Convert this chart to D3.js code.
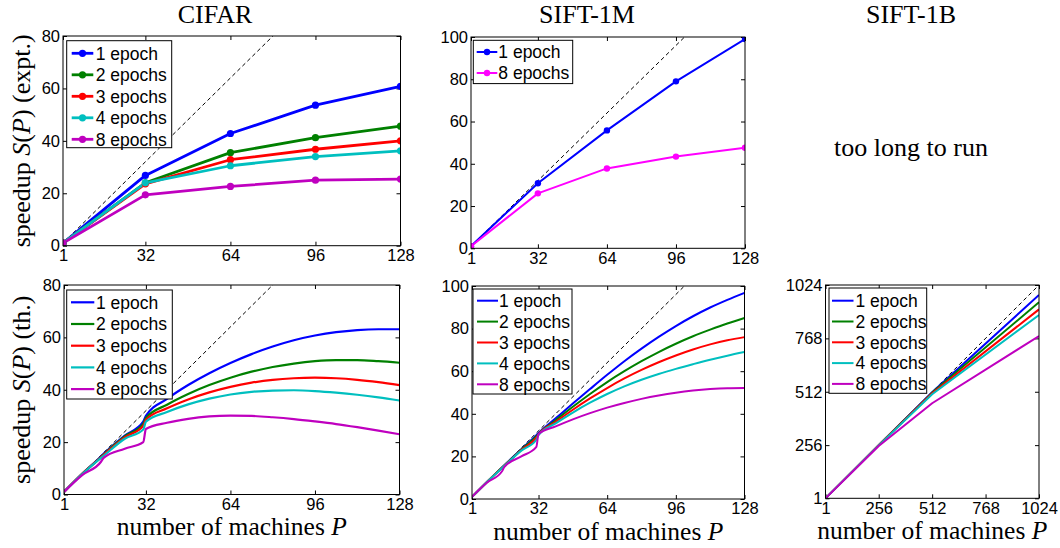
<!DOCTYPE html>
<html>
<head>
<meta charset="utf-8">
<script src="https://cdn.jsdelivr.net/npm/d3@7"></script>
<style>
    body { margin: 0; background: #fff; }
    svg { display: block; }
</style>
</head>
<body>
<div id="chart"></div>
<script>
// ---- data ----
const epochLabels = ["1 epoch", "2 epochs", "3 epochs", "4 epochs", "8 epochs"];
const epochColors = ["#0000ff", "#008000", "#ff0000", "#00bfbf", "#bf00bf"];

// CIFAR, measured speedup
const cifarExptP = [1, 32, 64, 96, 128];
const cifarExpt = [
    [1, 26.8, 42.8, 53.6, 60.8],
    [1, 24.0, 35.5, 41.2, 45.6],
    [1, 23.6, 32.8, 36.8, 40.0],
    [1, 24.0, 30.5, 34.0, 36.2],
    [1, 19.4, 22.6, 25.0, 25.4]
];

// SIFT-1M, measured speedup
const sift1mExptP = [1, 32, 64, 96, 128];
const sift1mExptLabels = ["1 epoch", "8 epochs"];
const sift1mExptColors = ["#0000ff", "#ff00ff"];
const sift1mExpt = [
    [1, 30.8, 55.8, 79.0, 99.0],
    [1, 26.0, 37.8, 43.4, 47.6]
];

// theoretical curves, sampled at these P
const thP = [1, 8, 15, 16, 24, 31, 32, 40, 48, 56, 64, 72, 80, 88, 96, 104, 112, 120, 128];
const cifarTh = [
    [1, 8, 14.5, 15.5, 22.5, 27.8, 30.0, 36.5, 41.8, 46.3, 50.2, 53.6, 56.5, 58.9, 60.7, 62.0, 62.8, 63.1, 63.1],
    [1, 8, 14.3, 15.3, 22.2, 27.0, 29.2, 34.3, 38.4, 41.8, 44.6, 46.9, 48.7, 50.0, 50.9, 51.3, 51.3, 50.9, 50.3],
    [1, 8, 14.2, 15.1, 21.8, 26.2, 28.5, 32.9, 36.3, 39.0, 41.1, 42.7, 43.8, 44.4, 44.6, 44.4, 43.8, 42.9, 41.8],
    [1, 7.9, 14.0, 14.8, 21.3, 24.8, 27.8, 31.5, 34.4, 36.6, 38.2, 39.2, 39.7, 39.8, 39.5, 38.9, 38.1, 37.1, 35.9],
    [1, 7.5, 12.5, 14.0, 17.5, 20.0, 25.0, 27.4, 28.9, 29.8, 30.1, 30.0, 29.5, 28.8, 27.9, 26.9, 25.7, 24.4, 23.0]
];
const sift1mTh = [
    [1, 8, 14.8, 15.8, 23.4, 30.0, 31.0, 37.9, 44.8, 51.6, 58.3, 64.7, 70.6, 76.1, 81.2, 85.8, 89.9, 93.5, 96.8],
    [1, 8, 14.8, 15.7, 23.2, 29.5, 30.6, 37.0, 43.3, 49.3, 54.9, 60.0, 64.7, 69.0, 72.9, 76.4, 79.5, 82.4, 85.0],
    [1, 8, 14.7, 15.6, 23.0, 28.8, 30.3, 36.2, 41.9, 47.2, 52.1, 56.6, 60.6, 64.2, 67.4, 70.2, 72.6, 74.5, 76.0],
    [1, 8, 14.6, 15.5, 22.7, 27.8, 30.0, 35.5, 40.6, 45.2, 49.3, 52.9, 56.0, 58.7, 61.1, 63.3, 65.4, 67.3, 69.0],
    [1, 7.7, 13.0, 15.0, 20.0, 24.5, 30.5, 34.1, 37.4, 40.3, 42.9, 45.1, 47.0, 48.6, 49.9, 50.9, 51.6, 52.0, 52.1]
];
const sift1bP = [1, 256, 512, 1024];
const sift1bTh = [
    [1, 256, 510, 976],
    [1, 256, 508, 941],
    [1, 256, 505, 907],
    [1, 255, 500, 880],
    [1, 252, 457, 779]
];

const ticks128 = [1, 32, 64, 96, 128];
const ticks80 = [0, 20, 40, 60, 80];
const ticks100 = [0, 20, 40, 60, 80, 100];
const ticks1024 = [1, 256, 512, 768, 1024];

const titles = [["CIFAR", 215], ["SIFT-1M", 587], ["SIFT-1B", 911]];

// ---- layout ----
const W = 1060, H = 548;
const sansFont = "'Liberation Sans', Arial, Helvetica, sans-serif";
const serifFont = "'Liberation Serif', 'Times New Roman', serif";

const panels = [
    { box: [63, 36, 400.5, 245.7], xDomain: [1, 128], yDomain: [0, 80], xTicks: ticks128, yTicks: ticks80,
      xs: cifarExptP, series: cifarExpt, labels: epochLabels, colors: epochColors, markers: true, lw: 2.8,
      curve: d3.curveLinear, ylabel: "(expt.)",
      legend: { dx: 3.7, dy: 4.7, w: 105, h: 107, first: 12.6, step: 21.5, line: [5, 26.6], text: 29 } },
    { box: [471, 37, 745, 248.3], xDomain: [1, 128], yDomain: [0, 100], xTicks: ticks128, yTicks: ticks100,
      xs: sift1mExptP, series: sift1mExpt, labels: sift1mExptLabels, colors: sift1mExptColors, markers: true, lw: 2,
      curve: d3.curveLinear,
      legend: { dx: 2.3, dy: 3.3, w: 99.4, h: 43.3, first: 11.7, step: 21, line: [3.4, 24], text: 25 } },
    { box: [64, 285, 399.5, 494.5], xDomain: [1, 128], yDomain: [0, 80], xTicks: ticks128, yTicks: ticks80,
      xs: thP, series: cifarTh, labels: epochLabels, colors: epochColors, markers: false, lw: 2.2,
      curve: d3.curveMonotoneX, ylabel: "(th.)", xlabel: true,
      legend: { dx: 2.7, dy: 5, w: 105.6, h: 109, first: 12.3, step: 21.7, line: [4.3, 27.6], text: 29.3 } },
    { box: [472, 286, 744.5, 499], xDomain: [1, 128], yDomain: [0, 100], xTicks: ticks128, yTicks: ticks100,
      xs: thP, series: sift1mTh, labels: epochLabels, colors: epochColors, markers: false, lw: 2,
      curve: d3.curveMonotoneX, xlabel: true,
      legend: { dx: 1, dy: 3, w: 99, h: 105, first: 11.7, step: 20.9, line: [4, 25], text: 26 } },
    { box: [825.5, 285, 1039, 498.3], xDomain: [1, 1024], yDomain: [1, 1024], xTicks: ticks1024, yTicks: ticks1024,
      xs: sift1bP, series: sift1bTh, labels: epochLabels, colors: epochColors, markers: false, lw: 2,
      curve: d3.curveLinear, xlabel: true,
      legend: { dx: 3.5, dy: 3, w: 97.7, h: 105.3, first: 12.7, step: 20.8, line: [3, 24.5], text: 26.5 } }
];

const svg = d3.select("#chart").append("svg")
    .attr("width", W)
    .attr("height", H)
    .style("background", "#fff");

const defs = svg.append("defs");

titles.forEach(([t, x]) => {
    svg.append("text")
        .attr("x", x)
        .attr("y", 22.5)
        .attr("text-anchor", "middle")
        .style("font-family", serifFont)
        .style("font-size", "26px")
        .text(t);
});

svg.append("text")
    .attr("x", 911)
    .attr("y", 156)
    .attr("text-anchor", "middle")
    .style("font-family", serifFont)
    .style("font-size", "26px")
    .text("too long to run");

panels.forEach((p, pi) => {
    const [x0, y0, x1, y1] = p.box;
    const x = d3.scaleLinear().domain(p.xDomain).range([x0, x1]);
    const y = d3.scaleLinear().domain(p.yDomain).range([y1, y0]);

    const g = svg.append("g");

    defs.append("clipPath")
        .attr("id", "clip" + pi)
        .append("rect")
        .attr("x", x0).attr("y", y0)
        .attr("width", x1 - x0).attr("height", y1 - y0);

    // axes, ticks pointing inward like matlab
    const fmt = d3.format("d");
    const bottom = g.append("g")
        .attr("transform", `translate(0,${y1})`)
        .call(d3.axisBottom(x).tickValues(p.xTicks).tickFormat(fmt).tickSizeInner(-4).tickSizeOuter(0).tickPadding(3.5));
    const left = g.append("g")
        .attr("transform", `translate(${x0},0)`)
        .call(d3.axisLeft(y).tickValues(p.yTicks).tickFormat(fmt).tickSizeInner(-4).tickSizeOuter(0).tickPadding(3));
    g.append("g")
        .attr("transform", `translate(0,${y0})`)
        .call(d3.axisTop(x).tickValues(p.xTicks).tickSizeInner(-4).tickSizeOuter(0).tickFormat(""));
    g.append("g")
        .attr("transform", `translate(${x1},0)`)
        .call(d3.axisRight(y).tickValues(p.yTicks).tickSizeInner(-4).tickSizeOuter(0).tickFormat(""));

    g.selectAll(".domain").remove();
    g.selectAll(".tick line").attr("stroke", "#000").attr("stroke-width", 1);
    [bottom, left].forEach(a => a.selectAll("text")
        .attr("fill", "#000")
        .style("font-family", sansFont)
        .style("font-size", "16.5px"));

    // y = x reference line
    const plot = g.append("g").attr("clip-path", `url(#clip${pi})`);
    const lo = p.xDomain[0], hi = p.xDomain[1];
    plot.append("line")
        .attr("x1", x(lo)).attr("y1", y(lo))
        .attr("x2", x(hi)).attr("y2", y(hi))
        .attr("stroke", "#000")
        .attr("stroke-width", 1)
        .attr("stroke-dasharray", "4,3");

    const line = d3.line()
        .x((d, i) => x(p.xs[i]))
        .y(d => y(d))
        .curve(p.curve);

    p.series.forEach((s, si) => {
        plot.append("path")
            .datum(s)
            .attr("fill", "none")
            .attr("stroke", p.colors[si])
            .attr("stroke-width", p.lw)
            .attr("stroke-linejoin", "round")
            .attr("d", line);
    });

    if (p.markers) {
        p.series.forEach((s, si) => {
            plot.selectAll(null)
                .data(s)
                .join("circle")
                .attr("cx", (d, i) => x(p.xs[i]))
                .attr("cy", d => y(d))
                .attr("r", p.lw > 2.5 ? 3.6 : 3.2)
                .attr("fill", p.colors[si]);
        });
    }

    // frame
    g.append("rect")
        .attr("x", x0).attr("y", y0)
        .attr("width", x1 - x0).attr("height", y1 - y0)
        .attr("fill", "none")
        .attr("stroke", "#000")
        .attr("stroke-width", 1);

    // legend
    const L = p.legend;
    const lg = g.append("g").attr("transform", `translate(${x0 + L.dx},${y0 + L.dy})`);
    lg.append("rect")
        .attr("width", L.w).attr("height", L.h)
        .attr("fill", "#fff")
        .attr("stroke", "#000")
        .attr("stroke-width", 1);
    p.labels.forEach((lab, li) => {
        const ry = L.first + li * L.step;
        lg.append("line")
            .attr("x1", L.line[0]).attr("x2", L.line[1])
            .attr("y1", ry).attr("y2", ry)
            .attr("stroke", p.colors[li])
            .attr("stroke-width", p.lw);
        if (p.markers) {
            lg.append("circle")
                .attr("cx", (L.line[0] + L.line[1]) / 2)
                .attr("cy", ry)
                .attr("r", p.lw > 2.5 ? 3.6 : 3.2)
                .attr("fill", p.colors[li]);
        }
        lg.append("text")
            .attr("x", L.text)
            .attr("y", ry)
            .attr("dy", "0.36em")
            .style("font-family", sansFont)
            .style("font-size", "17.5px")
            .text(lab);
    });

    // axis titles
    if (p.ylabel) {
        const yl = svg.append("text")
            .attr("transform", `translate(29.5,${(y0 + y1) / 2}) rotate(-90)`)
            .attr("text-anchor", "middle")
            .style("font-family", serifFont)
            .style("font-size", "26px");
        yl.append("tspan").text("speedup ");
        yl.append("tspan").style("font-style", "italic").text("S");
        yl.append("tspan").text("(");
        yl.append("tspan").style("font-style", "italic").text("P");
        yl.append("tspan").text(") " + p.ylabel);
    }
    if (p.xlabel) {
        const xl = svg.append("text")
            .attr("x", (x0 + x1) / 2)
            .attr("y", y1 + 40.5)
            .attr("text-anchor", "middle")
            .style("font-family", serifFont)
            .style("font-size", "25.5px");
        xl.append("tspan").text("number of machines ");
        xl.append("tspan").style("font-style", "italic").text("P");
    }
});
</script>
</body>
</html>
